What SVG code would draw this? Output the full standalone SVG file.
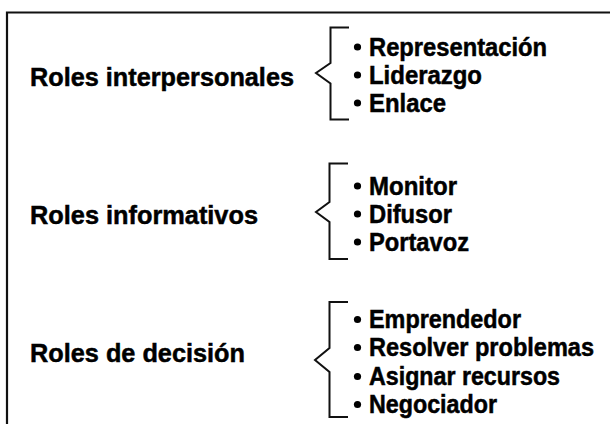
<svg xmlns="http://www.w3.org/2000/svg" width="611" height="424" viewBox="0 0 611 424">
  <style>
    .frame { fill: none; stroke: #111; stroke-width: 2.2; }
    .brace { fill: none; stroke: #111; stroke-width: 2; stroke-linejoin: miter; }
    .dot { fill: #000; }
    .label { font-family: "Liberation Sans", Arial, sans-serif; font-weight: bold; font-size: 26.5px; fill: #000; stroke: #000; stroke-width: 0.5; }
    .item { font-family: "Liberation Sans", Arial, sans-serif; font-weight: bold; font-size: 25px; fill: #000; stroke: #000; stroke-width: 0.5; }
  </style>
  <rect width="611" height="424" fill="#fff"/>
  <!-- outer frame, open to the right and bottom -->
  <path class="frame" d="M7,424 V12.5 H610"/>

  <g id="interpersonales">
    <text class="label" x="30" y="86" textLength="264" lengthAdjust="spacingAndGlyphs">Roles interpersonales</text>
    <path class="brace" d="M349,27.5 H330.5 V63 L316,73 L330.5,83.5 V119.5 H349"/>
    <circle class="dot" cx="357.5" cy="47" r="3.6"/>
    <circle class="dot" cx="357.5" cy="75" r="3.6"/>
    <circle class="dot" cx="357.5" cy="103" r="3.6"/>
    <text class="item" x="369" y="55.5" textLength="178" lengthAdjust="spacingAndGlyphs">Representación</text>
    <text class="item" x="369" y="83.5" textLength="113" lengthAdjust="spacingAndGlyphs">Liderazgo</text>
    <text class="item" x="369" y="111.5" textLength="77" lengthAdjust="spacingAndGlyphs">Enlace</text>
  </g>

  <g id="informativos">
    <text class="label" x="30" y="224" textLength="228" lengthAdjust="spacingAndGlyphs">Roles informativos</text>
    <path class="brace" d="M348,163.5 H329.5 V202 L316,212 L329.5,222 V259 H348"/>
    <circle class="dot" cx="357.5" cy="186" r="3.6"/>
    <circle class="dot" cx="357.5" cy="214" r="3.6"/>
    <circle class="dot" cx="357.5" cy="242" r="3.6"/>
    <text class="item" x="369" y="194.5" textLength="88" lengthAdjust="spacingAndGlyphs">Monitor</text>
    <text class="item" x="369" y="222.5" textLength="83" lengthAdjust="spacingAndGlyphs">Difusor</text>
    <text class="item" x="369" y="250.5" textLength="100" lengthAdjust="spacingAndGlyphs">Portavoz</text>
  </g>

  <g id="decision">
    <text class="label" x="30" y="362" textLength="215" lengthAdjust="spacingAndGlyphs">Roles de decisión</text>
    <path class="brace" d="M348,302 H329.5 V348 L315,360 L329.5,372 V417 H348"/>
    <circle class="dot" cx="357.5" cy="319.5" r="3.6"/>
    <circle class="dot" cx="357.5" cy="347.5" r="3.6"/>
    <circle class="dot" cx="357.5" cy="376.5" r="3.6"/>
    <circle class="dot" cx="357.5" cy="404.5" r="3.6"/>
    <text class="item" x="369" y="328" textLength="152" lengthAdjust="spacingAndGlyphs">Emprendedor</text>
    <text class="item" x="369" y="356" textLength="225" lengthAdjust="spacingAndGlyphs">Resolver problemas</text>
    <text class="item" x="369" y="385" textLength="191" lengthAdjust="spacingAndGlyphs">Asignar recursos</text>
    <text class="item" x="369" y="413" textLength="128" lengthAdjust="spacingAndGlyphs">Negociador</text>
  </g>
</svg>
